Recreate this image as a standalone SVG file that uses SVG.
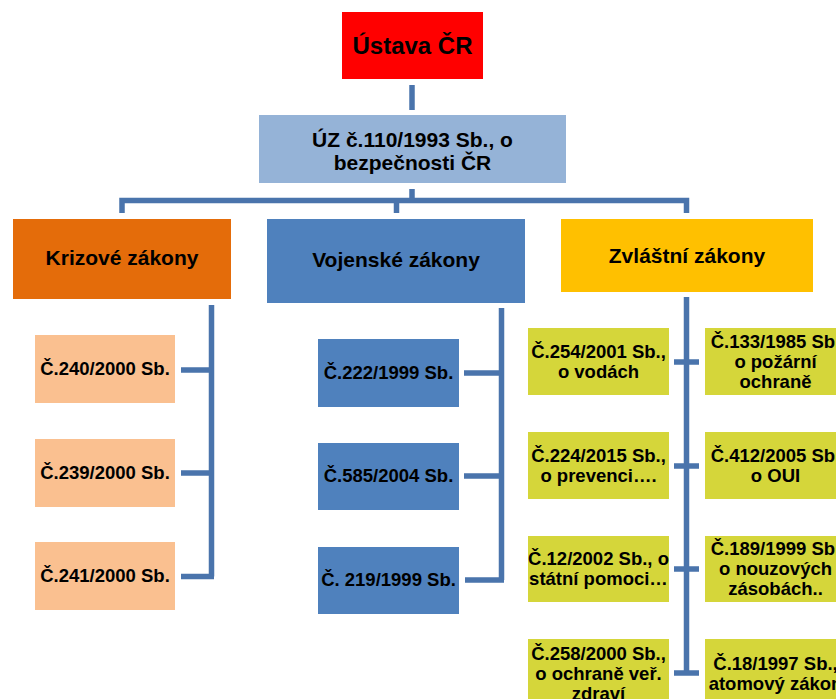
<svg xmlns="http://www.w3.org/2000/svg" width="836" height="699" viewBox="0 0 836 699">
<style>
text{font-family:"Liberation Sans",Arial,sans-serif;font-weight:bold;fill:#000;text-anchor:middle}
.h0{font-size:24px}
.h1{font-size:21px}
.lf{font-size:18.5px}
.con{stroke:#4A74AC;stroke-width:5.5;fill:none;stroke-linecap:butt;stroke-linejoin:miter}
.krz{fill:#FAC090}
.voj{fill:#4F81BD}
.zvl{fill:#D5D63A}
</style>
<rect width="836" height="699" fill="#FFFFFF"/>
<g id="connectors">
<path class="con" d="M412 85V110"/>
<path class="con" d="M412 189V200.5M122 213V200.5H686.5V213M396.5 200.5V213"/>
<path class="con" d="M211.5 305V576.5M181 370H211.5M181 473H211.5M181 576.5H214"/>
<path class="con" d="M501.5 308V580M464 373H501.5M464 476H501.5M465 580H504"/>
<path class="con" d="M686.5 297V673M674 362H699M674 466H699M674 569H699M674 673H699"/>
</g>
<g id="ustava"><rect x="342" y="12" width="141" height="67" fill="#FF0000"/><text class="h0" x="412.5" y="54">Ústava ČR</text></g>
<g id="uz110"><rect x="259" y="115" width="307" height="68" fill="#95B3D7"/><text class="h1" x="412.5" y="147">ÚZ č.110/1993 Sb., o</text><text class="h1" x="412.5" y="170">bezpečnosti ČR</text></g>
<g id="krizove"><rect x="13" y="219" width="218" height="80" fill="#E46C0A"/><text class="h1" x="122" y="265">Krizové zákony</text></g>
<g id="vojenske"><rect x="267" y="219" width="258" height="84" fill="#4F81BD"/><text class="h1" x="396" y="267">Vojenské zákony</text></g>
<g id="zvlastni"><rect x="561" y="219" width="252" height="73" fill="#FFC000"/><text class="h1" x="687" y="263">Zvláštní zákony</text></g>
<g id="k240"><rect class="krz" x="35" y="335" width="140" height="68"/><text class="lf" x="105" y="375">Č.240/2000 Sb.</text></g>
<g id="k239"><rect class="krz" x="35" y="439" width="140" height="68"/><text class="lf" x="105" y="479">Č.239/2000 Sb.</text></g>
<g id="k241"><rect class="krz" x="35" y="542" width="140" height="68"/><text class="lf" x="105" y="582">Č.241/2000 Sb.</text></g>
<g id="v222"><rect class="voj" x="318" y="339" width="141" height="68"/><text class="lf" x="388.5" y="379">Č.222/1999 Sb.</text></g>
<g id="v585"><rect class="voj" x="318" y="443" width="141" height="67"/><text class="lf" x="388.5" y="482">Č.585/2004 Sb.</text></g>
<g id="v219"><rect class="voj" x="318" y="547" width="141" height="67"/><text class="lf" x="388.5" y="586">Č. 219/1999 Sb.</text></g>
<g id="z254"><rect class="zvl" x="528" y="328" width="141" height="67"/><text class="lf" x="598.5" y="358">Č.254/2001 Sb.,</text><text class="lf" x="598.5" y="378">o vodách</text></g>
<g id="z224"><rect class="zvl" x="528" y="432" width="141" height="67"/><text class="lf" x="598.5" y="462">Č.224/2015 Sb.,</text><text class="lf" x="598.5" y="482">o prevenci….</text></g>
<g id="z12"><rect class="zvl" x="528" y="536" width="141" height="66"/><text class="lf" x="598.5" y="565">Č.12/2002 Sb., o</text><text class="lf" x="598.5" y="585">státní pomoci…</text></g>
<g id="z258"><rect class="zvl" x="528" y="639" width="141" height="67"/><text class="lf" x="598.5" y="660">Č.258/2000 Sb.,</text><text class="lf" x="598.5" y="680">o ochraně veř.</text><text class="lf" x="598.5" y="700">zdraví</text></g>
<g id="z133"><rect class="zvl" x="705" y="328" width="141" height="67"/><text class="lf" x="775.5" y="348">Č.133/1985 Sb.</text><text class="lf" x="775.5" y="368">o požární</text><text class="lf" x="775.5" y="388">ochraně</text></g>
<g id="z412"><rect class="zvl" x="705" y="432" width="141" height="67"/><text class="lf" x="775.5" y="462">Č.412/2005 Sb.</text><text class="lf" x="775.5" y="482">o OUI</text></g>
<g id="z189"><rect class="zvl" x="705" y="536" width="141" height="66"/><text class="lf" x="775.5" y="555">Č.189/1999 Sb.</text><text class="lf" x="775.5" y="575">o nouzových</text><text class="lf" x="775.5" y="595">zásobách..</text></g>
<g id="z18"><rect class="zvl" x="705" y="639" width="141" height="67"/><text class="lf" x="775.5" y="670">Č.18/1997 Sb.,</text><text class="lf" x="775.5" y="690">atomový zákon</text></g>
</svg>
